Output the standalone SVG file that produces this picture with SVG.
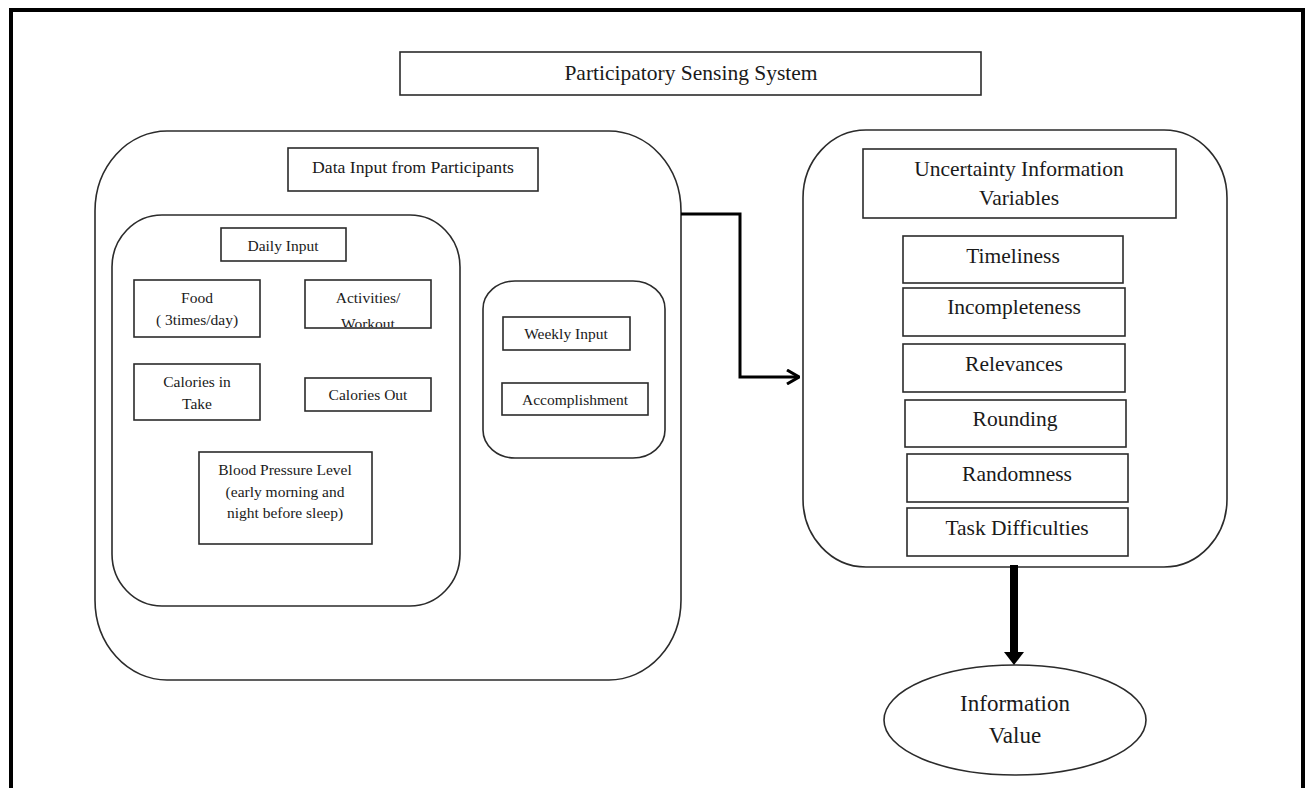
<svg xmlns="http://www.w3.org/2000/svg" width="1307" height="788" viewBox="0 0 1307 788">
<style>
.box{fill:#fff;stroke:#2b2b2b;stroke-width:1.6}
.grp{fill:none;stroke:#2b2b2b;stroke-width:1.6}
text{font-family:"Liberation Serif","Times New Roman",serif;fill:#1a1a1a;text-anchor:middle}
.sm{font-size:15.5px}
.md{font-size:17.7px}
.lg{font-size:21.5px}
.xl{font-size:23px}
.conn{fill:none;stroke:#000}
</style>
<defs>
<marker id="open" viewBox="0 0 14 16" refX="13" refY="8" markerWidth="14" markerHeight="16" markerUnits="userSpaceOnUse" orient="auto">
<path d="M1,1 L13,8 L1,15" fill="none" stroke="#000" stroke-width="3"/>
</marker>
<marker id="solid" viewBox="0 0 13 20" refX="0" refY="10" markerWidth="13" markerHeight="20" markerUnits="userSpaceOnUse" orient="auto">
<path d="M0,0 L0,20 L13,10 Z" fill="#000"/>
</marker>
<clipPath id="actClip"><rect x="305" y="280" width="126" height="47"/></clipPath>
</defs>
<rect width="1307" height="788" fill="#fff"/>
<path d="M11,788 V10 H1303 V788" fill="none" stroke="#000" stroke-width="4"/>

<g id="title">
<rect class="box" x="400" y="52" width="581" height="43"/>
<text class="lg" x="691" y="80">Participatory Sensing System</text>
</g>

<g id="data-input">
<rect class="grp" x="95" y="131" width="586" height="549" rx="72" ry="80"/>
<rect class="box" x="288" y="148" width="250" height="43"/>
<text class="md" x="413" y="173">Data Input from Participants</text>
</g>

<g id="daily">
<rect class="grp" x="112" y="215" width="348" height="391" rx="50" ry="52"/>
<rect class="box" x="221" y="228" width="125" height="33"/>
<text class="sm" x="283" y="251">Daily Input</text>
</g>

<g id="food">
<rect class="box" x="134" y="280" width="126" height="57"/>
<text class="sm" x="197" y="303">Food</text>
<text class="sm" x="197" y="325">( 3times/day)</text>
</g>

<g id="activities">
<rect class="box" x="305" y="280" width="126" height="48"/>
<text class="sm" x="368" y="303">Activities/</text>
<text class="sm" x="368" y="329" clip-path="url(#actClip)">Workout</text>
</g>

<g id="calories-in">
<rect class="box" x="134" y="364" width="126" height="56"/>
<text class="sm" x="197" y="387">Calories in</text>
<text class="sm" x="197" y="409">Take</text>
</g>

<g id="calories-out">
<rect class="box" x="305" y="378" width="126" height="33"/>
<text class="sm" x="368" y="400">Calories Out</text>
</g>

<g id="blood-pressure">
<rect class="box" x="199" y="452" width="173" height="92"/>
<text class="sm" x="285" y="475">Blood Pressure Level</text>
<text class="sm" x="285" y="497">(early morning and</text>
<text class="sm" x="285" y="518">night before sleep)</text>
</g>

<g id="weekly">
<rect class="grp" x="483" y="281" width="182" height="177" rx="32" ry="28"/>
<rect class="box" x="503" y="317" width="127" height="33"/>
<text class="sm" x="566" y="339">Weekly Input</text>
</g>

<g id="accomplishment">
<rect class="box" x="502" y="383" width="146" height="32"/>
<text class="sm" x="575" y="405">Accomplishment</text>
</g>

<g id="uncertainty">
<rect class="grp" x="803" y="130" width="424" height="437" rx="63" ry="68"/>
<rect class="box" x="863" y="149" width="313" height="69"/>
<text class="lg" x="1019" y="176">Uncertainty Information</text>
<text class="lg" x="1019" y="205">Variables</text>
</g>

<g id="timeliness">
<rect class="box" x="903" y="236" width="220" height="47"/>
<text class="lg" x="1013" y="263">Timeliness</text>
</g>
<g id="incompleteness">
<rect class="box" x="903" y="288" width="222" height="48"/>
<text class="lg" x="1014" y="314">Incompleteness</text>
</g>
<g id="relevances">
<rect class="box" x="903" y="344" width="222" height="48"/>
<text class="lg" x="1014" y="371">Relevances</text>
</g>
<g id="rounding">
<rect class="box" x="905" y="400" width="221" height="47"/>
<text class="lg" x="1015" y="426">Rounding</text>
</g>
<g id="randomness">
<rect class="box" x="907" y="454" width="221" height="48"/>
<text class="lg" x="1017" y="481">Randomness</text>
</g>
<g id="task-difficulties">
<rect class="box" x="907" y="508" width="221" height="48"/>
<text class="lg" x="1017" y="535">Task Difficulties</text>
</g>

<g id="information-value">
<ellipse class="box" cx="1015" cy="720" rx="131" ry="55"/>
<text class="xl" x="1015" y="711">Information</text>
<text class="xl" x="1015" y="743">Value</text>
</g>

<g id="connectors">
<path class="conn" d="M681,214 H740 V377 H799" stroke-width="3" marker-end="url(#open)"/>
<path class="conn" d="M1014,565 V652" stroke-width="8" marker-end="url(#solid)"/>
</g>
</svg>
